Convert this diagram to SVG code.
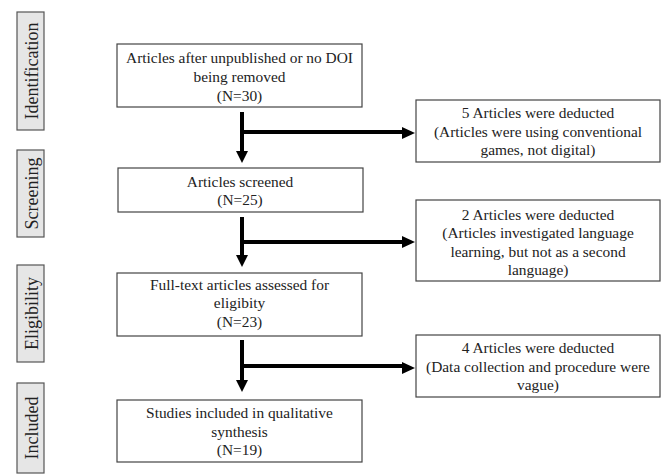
<svg xmlns="http://www.w3.org/2000/svg" width="665" height="475" viewBox="0 0 665 475" font-family="'Liberation Serif', 'DejaVu Serif', serif">
<defs>
<style>
.stage{fill:#e6e6e6;stroke:#555;stroke-width:1.2}
.box{fill:#fff;stroke:#444;stroke-width:1.2}
text{font-family:'Liberation Serif','DejaVu Serif',serif;font-size:15.4px;fill:#222;text-anchor:middle}
text.lbl{font-size:18px}
.ln{stroke:#000;stroke-width:4;fill:none}
.ah{fill:#000}
</style>
</defs>
<rect width="665" height="475" fill="#fff"/>
<g id="stage-identification"><rect class="stage" x="17" y="12" width="27" height="118"/><text class="lbl" transform="translate(37.5,71) rotate(-90)">Identification</text></g>
<g id="stage-screening"><rect class="stage" x="17" y="150" width="27" height="87"/><text class="lbl" transform="translate(37.5,193.5) rotate(-90)">Screening</text></g>
<g id="stage-eligibility"><rect class="stage" x="17" y="265" width="27" height="97"/><text class="lbl" transform="translate(37.5,313.5) rotate(-90)">Eligibility</text></g>
<g id="stage-included"><rect class="stage" x="17" y="383" width="27" height="90"/><text class="lbl" transform="translate(37.5,428) rotate(-90)">Included</text></g>

<g id="n1"><rect class="box" x="117" y="44" width="245" height="63"/><text x="239.5" y="63">Articles after unpublished or no DOI</text><text x="239.5" y="82">being removed</text><text x="239.5" y="101">(N=30)</text></g>
<g id="n2"><rect class="box" x="118" y="168" width="245" height="44"/><text x="240" y="187">Articles screened</text><text x="240" y="205">(N=25)</text></g>
<g id="n3"><rect class="box" x="117" y="273" width="245" height="63"/><text x="239.5" y="290">Full-text articles assessed for</text><text x="239.5" y="308">eligibity</text><text x="239.5" y="327">(N=23)</text></g>
<g id="n4"><rect class="box" x="117" y="400" width="245" height="62"/><text x="239.5" y="418">Studies included in qualitative</text><text x="239.5" y="437">synthesis</text><text x="239.5" y="455">(N=19)</text></g>

<g id="r1"><rect class="box" x="416" y="100" width="244" height="62"/><text x="538" y="118">5 Articles were deducted</text><text x="538" y="137">(Articles were using conventional</text><text x="538" y="155">games, not digital)</text></g>
<g id="r2"><rect class="box" x="416" y="200" width="244" height="81"/><text x="538" y="220">2 Articles were deducted</text><text x="538" y="238">(Articles investigated language</text><text x="538" y="257">learning, but not as a second</text><text x="538" y="275">language)</text></g>
<g id="r3"><rect class="box" x="416" y="335" width="244" height="62"/><text x="538" y="353">4 Articles were deducted</text><text x="538" y="372">(Data collection and procedure were</text><text x="538" y="390">vague)</text></g>

<g id="connectors">
<path class="ln" d="M242 112V152M242 132H403"/>
<polygon class="ah" points="236,151 248,151 242,163"/>
<polygon class="ah" points="402,127 402,139 415,133"/>
<path class="ln" d="M242 217V256M242 242H403"/>
<polygon class="ah" points="236,255 248,255 242,267"/>
<polygon class="ah" points="402,236 402,248 415,242"/>
<path class="ln" d="M242 340V381M242 366H403"/>
<polygon class="ah" points="236,380 248,380 242,392"/>
<polygon class="ah" points="402,362 402,374 415,368"/>
</g>
</svg>
